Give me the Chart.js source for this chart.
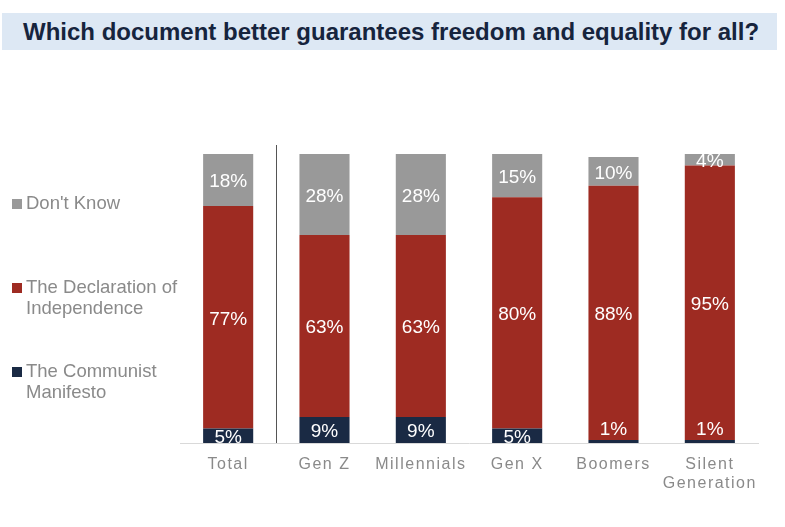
<!DOCTYPE html>
<html>
<head>
<meta charset="utf-8">
<script src="https://cdn.jsdelivr.net/npm/chart.js@4.4.1/dist/chart.umd.min.js"></script>
<style>
    body { margin: 0; background: #fff; width: 785px; height: 527px; overflow: hidden; font-family: "Liberation Sans", Arial, sans-serif; }
    #wrap { position: absolute; left: 0; top: 0; width: 785px; height: 527px; }
    #title {
        position: absolute; left: 2px; top: 13px; width: 775px; height: 37px;
        background: #dde8f4; color: #16243d; font-weight: bold; font-size: 24px;
        line-height: 38px; padding-left: 21px; box-sizing: border-box; white-space: nowrap;
    }
</style>
</head>
<body>
<div id="wrap"><canvas id="chart" width="785" height="527"></canvas></div>
<div id="title">Which document better guarantees freedom and equality for all?</div>
<script>
// data
const categories = ['Total', 'Gen Z', 'Millennials', 'Gen X', 'Boomers', ['Silent', 'Generation']];
const seriesNames = ['The Communist Manifesto', 'The Declaration of Independence', "Don't Know"];
const communist = [5, 9, 9, 5, 1, 1];
const declaration = [77, 63, 63, 80, 88, 95];
const dontKnow = [18, 28, 28, 15, 10, 4];
const seriesColors = ['#1a2a44', '#9e2b22', '#999999'];

const FONT = '"Liberation Sans", Arial, sans-serif';

// white % labels inside segments; tiny ones sit above the bar
const segmentLabels = {
    id: 'segmentLabels',
    afterDatasetsDraw(chart) {
        const ctx = chart.ctx;
        ctx.save();
        ctx.letterSpacing = '0px';
        ctx.font = '19px ' + FONT;
        ctx.fillStyle = '#ffffff';
        ctx.textAlign = 'center';
        ctx.textBaseline = 'middle';
        chart.data.datasets.forEach((ds, i) => {
            chart.getDatasetMeta(i).data.forEach((bar, j) => {
                const v = ds.data[j];
                let y = (bar.y + bar.base) / 2 + 2;
                if (v < 3) y = bar.y - 10;
                ctx.fillText(v + '%', bar.x, y);
            });
        });
        ctx.restore();
    }
};

// divider between Total and generations + left legend
const extras = {
    id: 'extras',
    beforeDraw(chart) {
        chart.ctx.letterSpacing = '1.5px';
    },
    afterDraw(chart) {
        const ctx = chart.ctx;
        const xs = chart.scales.x;
        const area = chart.chartArea;
        ctx.save();
        const dx = Math.round((xs.getPixelForValue(0) + xs.getPixelForValue(1)) / 2) + 0.5;
        ctx.strokeStyle = '#555555';
        ctx.lineWidth = 1;
        ctx.beginPath();
        ctx.moveTo(dx, 145);
        ctx.lineTo(dx, area.bottom);
        ctx.stroke();

        // legend, top series first
        ctx.letterSpacing = '0px';
        ctx.font = '18.5px ' + FONT;
        ctx.textBaseline = 'middle';
        ctx.textAlign = 'left';
        const order = [2, 1, 0];
        order.forEach((di, k) => {
            const y = 204 + k * 84;
            ctx.fillStyle = seriesColors[di];
            ctx.fillRect(12, y - 5, 10, 10);
            // wrap label
            const words = seriesNames[di].split(' ');
            const lines = [];
            let cur = '';
            words.forEach(w => {
                const t = cur ? cur + ' ' + w : w;
                if (ctx.measureText(t).width > 165 && cur) { lines.push(cur); cur = w; }
                else cur = t;
            });
            lines.push(cur);
            ctx.fillStyle = '#8a8a8a';
            lines.forEach((ln, li) => ctx.fillText(ln, 26, y + li * 21));
        });
        ctx.restore();
    }
};

new Chart(document.getElementById('chart'), {
    type: 'bar',
    data: {
        labels: categories,
        datasets: [
            { label: seriesNames[0], data: communist, backgroundColor: seriesColors[0] },
            { label: seriesNames[1], data: declaration, backgroundColor: seriesColors[1] },
            { label: seriesNames[2], data: dontKnow, backgroundColor: seriesColors[2] }
        ]
    },
    options: {
        responsive: false,
        animation: false,
        layout: { padding: { top: 154, left: 180, right: 27, bottom: 0 } },
        datasets: { bar: { barPercentage: 0.52, categoryPercentage: 1, borderWidth: 0 } },
        plugins: { legend: { display: false }, tooltip: { enabled: false } },
        scales: {
            x: {
                stacked: true,
                grid: { display: false },
                border: { color: '#d9d9d9', width: 1 },
                ticks: { color: '#8a8a8a', font: { family: FONT, size: 16, lineHeight: 1.2 }, padding: 4, maxRotation: 0 },
                afterFit: s => { s.height = 84; }
            },
            y: { stacked: true, display: false, min: 0, max: 100 }
        }
    },
    plugins: [segmentLabels, extras]
});
</script>
</body>
</html>
